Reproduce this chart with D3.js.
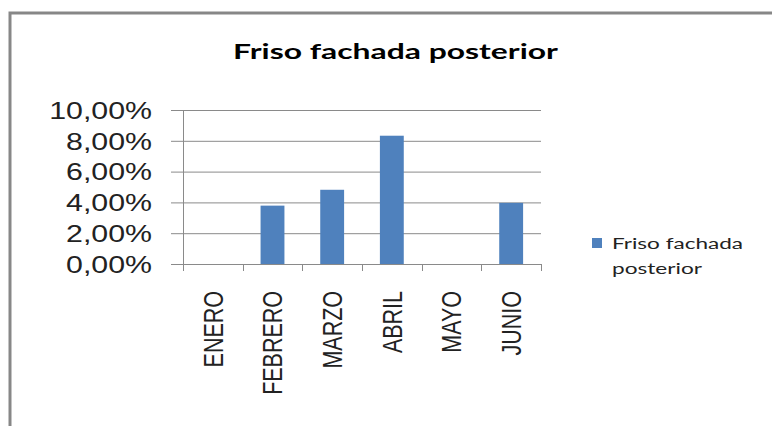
<!DOCTYPE html>
<html>
<head>
<meta charset="utf-8">
<script src="https://cdn.jsdelivr.net/npm/d3@7"></script>
<style>
  html, body { margin: 0; padding: 0; background: #ffffff; }
  svg { display: block; }
</style>
</head>
<body>
<script>
// Monthly share of the rear-facade frieze
const months = ["ENERO", "FEBRERO", "MARZO", "ABRIL", "MAYO", "JUNIO"];
const values = [0, 0.0379, 0.0482, 0.0833, 0, 0.0397];
const yTicks = [0, 0.02, 0.04, 0.06, 0.08, 0.10];
const chartTitle = "Friso fachada posterior";
const seriesName = ["Friso fachada", "posterior"];

const W = 772, H = 426;
const plot = { left: 183, right: 541, top: 110, bottom: 264 };
const stretch = 1.29;          // horizontal widening of all lettering
const barColor = "#4F81BD";
const gridColor = "#8a8a8a";
const textColor = "#222222";

const svg = d3.select("body").append("svg")
  .attr("width", W).attr("height", H);

svg.append("rect").attr("width", W).attr("height", H).attr("fill", "#fff");

// outer chart frame (runs off the right and bottom edges)
svg.append("rect")
  .attr("x", 10).attr("y", 13)
  .attr("width", W + 20).attr("height", H + 20)
  .attr("fill", "none")
  .attr("stroke", "#878787")
  .attr("stroke-width", 3);

// title
svg.append("text")
  .attr("x", 233).attr("y", 59)
  .attr("textLength", 325)
  .attr("lengthAdjust", "spacingAndGlyphs")
  .style("font-family", "Lato, 'Open Sans', sans-serif")
  .style("font-weight", "bold")
  .style("font-size", "21px")
  .attr("fill", "#000")
  .text(chartTitle);

const x = d3.scaleBand().domain(months).range([plot.left, plot.right]).paddingInner(0).paddingOuter(0);
const y = d3.scaleLinear().domain([0, 0.10]).range([plot.bottom, plot.top]);

// horizontal gridlines extending left past the axis as tick marks
const yAxis = d3.axisLeft(y)
  .tickValues(yTicks)
  .tickSize(plot.right - plot.left + 12)
  .tickFormat(d => d3.format(".2f")(d * 100).replace(".", ",") + "%");

const gy = svg.append("g")
  .attr("transform", `translate(${plot.right},0)`)
  .call(yAxis);
gy.select(".domain").remove();
gy.selectAll(".tick line").attr("stroke", gridColor).attr("stroke-width", 1);
gy.selectAll(".tick text")
  .attr("x", null).attr("dy", null)
  .attr("text-anchor", "end")
  .attr("dominant-baseline", "central")
  .attr("transform", `translate(${152 - plot.right},0) scale(${stretch},1)`)
  .style("font-family", "'Liberation Sans', Arial, sans-serif")
  .style("font-size", "23.5px")
  .attr("fill", textColor);

// bars
svg.append("g").selectAll("rect")
  .data(values)
  .join("rect")
  .attr("x", (d, i) => x(months[i]) + x.bandwidth() * 0.3)
  .attr("width", x.bandwidth() * 0.4)
  .attr("y", d => y(d))
  .attr("height", d => y(0) - y(d))
  .attr("fill", barColor);

// vertical axis line
svg.append("line")
  .attr("x1", plot.left + 0.5).attr("x2", plot.left + 0.5)
  .attr("y1", plot.top).attr("y2", plot.bottom)
  .attr("stroke", gridColor);

// category boundary ticks along the baseline
const xAxis = d3.axisBottom(x).tickSize(0).tickFormat("");
const gx = svg.append("g").attr("transform", `translate(0,${plot.bottom})`).call(xAxis);
gx.select(".domain").remove();
const bounds = months.map(m => x(m)).concat([plot.right]);
gx.selectAll("line.bound")
  .data(bounds)
  .join("line")
  .attr("class", "bound")
  .attr("x1", d => Math.round(d) + 0.5).attr("x2", d => Math.round(d) + 0.5)
  .attr("y1", 0).attr("y2", 7)
  .attr("stroke", gridColor);

// rotated month labels
gx.selectAll("text.month")
  .data(months)
  .join("text")
  .attr("class", "month")
  .attr("transform", d => `translate(${x(d) + x.bandwidth() / 2},${291 - plot.bottom}) scale(${stretch},1) rotate(-90)`)
  .attr("text-anchor", "end")
  .attr("dy", "0.36em")
  .style("font-family", "'Liberation Sans', Arial, sans-serif")
  .style("font-size", "21.5px")
  .attr("fill", textColor)
  .text(d => d);

// legend
const lg = svg.append("g");
lg.append("rect")
  .attr("x", 592).attr("y", 238)
  .attr("width", 10).attr("height", 10)
  .attr("fill", barColor);
lg.append("text")
  .attr("x", 612).attr("y", 249)
  .attr("textLength", 131).attr("lengthAdjust", "spacingAndGlyphs")
  .style("font-family", "Lato, 'Open Sans', sans-serif")
  .style("font-size", "15.5px")
  .attr("fill", textColor)
  .text(seriesName[0]);
lg.append("text")
  .attr("x", 612).attr("y", 274)
  .attr("textLength", 90).attr("lengthAdjust", "spacingAndGlyphs")
  .style("font-family", "Lato, 'Open Sans', sans-serif")
  .style("font-size", "15.5px")
  .attr("fill", textColor)
  .text(seriesName[1]);
</script>
</body>
</html>
